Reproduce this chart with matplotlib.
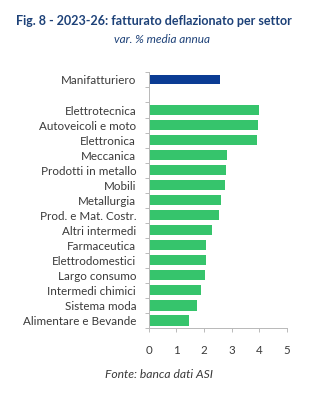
import numpy as np
import matplotlib.pyplot as plt

plt.rcParams['font.family'] = ['Lato', 'DejaVu Sans']

# Settori e variazione % media annua del fatturato deflazionato 2023-26
settori = ["Manifatturiero", "",
           "Elettrotecnica", "Autoveicoli e moto", "Elettronica", "Meccanica",
           "Prodotti in metallo", "Mobili", "Metallurgia", "Prod. e Mat. Costr.",
           "Altri intermedi", "Farmaceutica", "Elettrodomestici", "Largo consumo",
           "Intermedi chimici", "Sistema moda", "Alimentare e Bevande"]
valori = [2.58, np.nan,
          4.00, 3.95, 3.93, 2.84,
          2.79, 2.77, 2.60, 2.55,
          2.30, 2.07, 2.07, 2.03,
          1.88, 1.73, 1.47]
x_ticks = [0, 1, 2, 3, 4, 5]

blu = "#0b3c94"
verde = "#36c46c"
testo = "#3a3a3a"
titolo_col = "#1d4178"

fig = plt.figure(figsize=(3.24, 3.98), dpi=100)
ax = fig.add_axes([0.459, 0.176, 0.427, 0.642])

y = np.arange(len(settori))
colori = [blu] + [verde] * (len(settori) - 1)
altezze = [0.6] + [0.68] * (len(settori) - 1)
vals = np.nan_to_num(valori)
ax.barh(y, vals, height=altezze, color=colori, edgecolor="none")

ax.set_ylim(len(settori) - 0.5, -0.5)
ax.set_xlim(0, 5)
ax.set_xticks(x_ticks)
ax.set_xticklabels([str(v) for v in x_ticks], fontsize=8.3, color=testo)
ax.set_yticks(y)
ax.set_yticklabels(settori, fontsize=8.4, color=testo)
ax.tick_params(axis="y", length=0, pad=9)
ax.tick_params(axis="x", length=3, width=0.6, color="#b0b0b0", pad=9)

# tacche sull'asse verticale tra una categoria e l'altra
ax.set_yticks(np.arange(len(settori) + 1) - 0.5, minor=True)
ax.tick_params(axis="y", which="minor", length=3, width=0.6, color="#b0b0b0")

for s in ["top", "right"]:
    ax.spines[s].set_visible(False)
for s in ["left", "bottom"]:
    ax.spines[s].set_color("#b8b8b8")
    ax.spines[s].set_linewidth(0.7)

fig.text(0.048, 0.947, "Fig. 8 - 2023-26: fatturato deflazionato per settor",
         fontsize=9, fontweight="bold", color=titolo_col, ha="left", va="center")
fig.text(0.5, 0.9, "var. % media annua", fontsize=8.5, style="italic",
         color=titolo_col, ha="center", va="center")
fig.text(0.49, 0.058, "Fonte: banca dati ASI", fontsize=8.7, style="italic",
         color=testo, ha="center", va="center")

fig.savefig("out.png", dpi=100)
